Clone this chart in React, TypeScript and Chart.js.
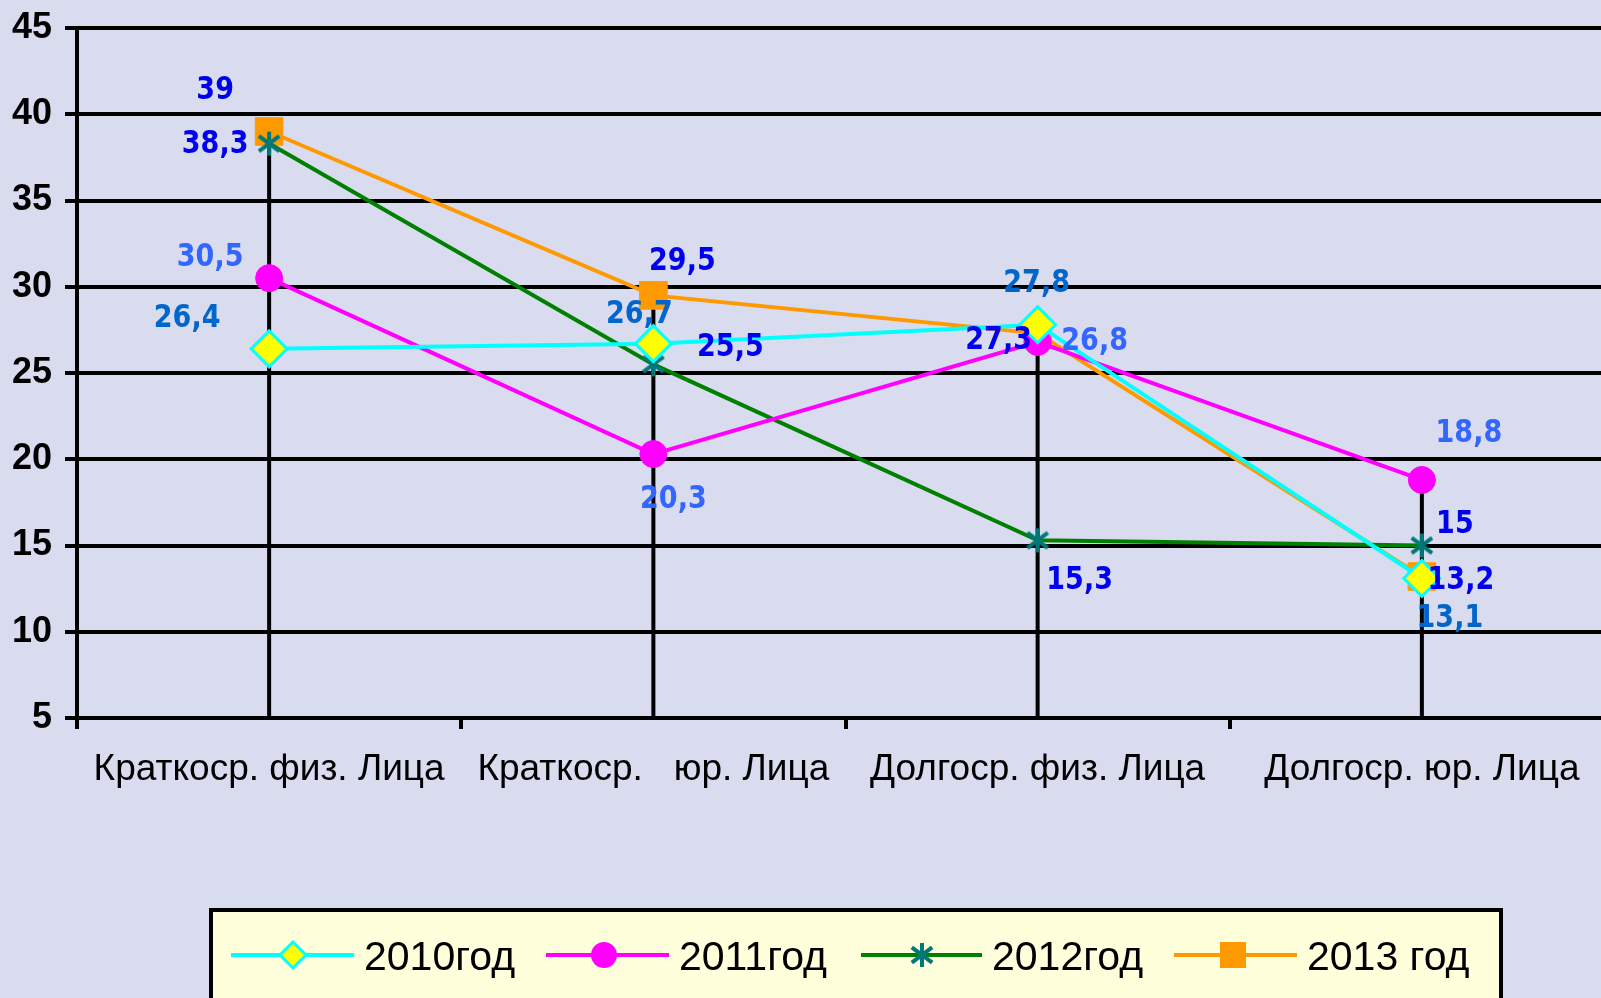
import React, { useEffect, useRef } from "react";
import { Chart, registerables } from "chart.js";
Chart.register(...registerables);

const categories = ["Краткоср. физ. Лица", "Краткоср.   юр. Лица", "Долгоср. физ. Лица", "Долгоср. юр. Лица"];
const seriesNames = ["2010год", "2011год", "2012год", "2013 год"];
const values2010 = [26.4, 26.7, 27.8, 13.1];
const values2011 = [30.5, 20.3, 26.8, 18.8];
const values2012 = [38.3, 25.5, 15.3, 15];
const values2013 = [39, 29.5, 27.3, 13.2];
const yMin = 5;
const yMax = 45;
const yStep = 5;

// label placement (style): offsets in px from each point
const labelOffsets = [
  [[-82, -31], [-14, -30], [-1, -42], [28, 40]],
  [[-59, -21], [20, 45], [57, -1], [47, -47]],
  [[-54, 0], [77, -17], [42, 40], [33, -22]],
  [[-54, -42], [29, -34], [-39, 7], [39, 3]],
];
const labelColors = ["#0066CC", "#3366FF", "#0000F0", "#0000F0"];

const FONT = "'Liberation Sans', Arial, sans-serif";
const LABEL_FONT = "'DejaVu Sans', Verdana, sans-serif";
const BG = "#D9DBEF";
const LW = 4;

function makeStar(size: number, color: string) {
  const c = document.createElement("canvas");
  c.width = size;
  c.height = size;
  const ctx = c.getContext("2d")!;
  ctx.strokeStyle = color;
  ctx.lineWidth = 4;
  const m = size / 2;
  const r = size / 2 - 2;
  ctx.beginPath();
  ctx.moveTo(m, m - r);
  ctx.lineTo(m, m + r);
  const d = r * 0.85;
  ctx.moveTo(m - d, m - d * 0.75);
  ctx.lineTo(m + d, m + d * 0.75);
  ctx.moveTo(m + d, m - d * 0.75);
  ctx.lineTo(m - d, m + d * 0.75);
  ctx.stroke();
  return c;
}

export default function App() {
  const ref = useRef<HTMLCanvasElement | null>(null);
  useEffect(() => {
    const canvas = ref.current!;
    const star = makeStar(28, "#007878");
    const allSeries = [values2010, values2011, values2012, values2013];

    const dropLines = {
      id: "dropLines",
      beforeDatasetsDraw(chart: any) {
        const ctx = chart.ctx;
        const xs = chart.scales.x;
        const ys = chart.scales.y;
        ctx.save();
        ctx.strokeStyle = "#000";
        ctx.lineWidth = LW;
        categories.forEach((_, i) => {
          const mx = Math.max(...allSeries.map((s) => s[i]));
          const x = xs.getPixelForValue(i);
          ctx.beginPath();
          ctx.moveTo(x, ys.getPixelForValue(yMin));
          ctx.lineTo(x, ys.getPixelForValue(mx));
          ctx.stroke();
        });
        ctx.restore();
      },
    };

    const dataLabels = {
      id: "dataLabels",
      afterDatasetsDraw(chart: any) {
        const ctx = chart.ctx;
        chart.data.datasets.forEach((ds: any, di: number) => {
          const meta = chart.getDatasetMeta(di);
          meta.data.forEach((pt: any, i: number) => {
            const [dx, dy] = labelOffsets[di][i];
            ctx.save();
            ctx.translate(pt.x + dx, pt.y + dy + 1);
            ctx.scale(1, 1.15);
            ctx.font = `bold 27px ${LABEL_FONT}`;
            ctx.textAlign = "center";
            ctx.textBaseline = "middle";
            ctx.fillStyle = labelColors[di];
            ctx.fillText(String(ds.data[i]).replace(".", ","), 0, 0);
            ctx.restore();
          });
        });
      },
    };

    const legendBox = {
      id: "legendBox",
      afterDraw(chart: any) {
        const ctx = chart.ctx;
        ctx.save();
        ctx.fillStyle = "#FFFFDC";
        ctx.fillRect(211, 910, 1290, 100);
        ctx.strokeStyle = "#000";
        ctx.lineWidth = LW;
        ctx.strokeRect(211, 910, 1290, 100);
        const cy = 955;
        const items = [
          { x0: 231, x1: 354, mx: 293, tx: 364 },
          { x0: 546, x1: 669, mx: 604, tx: 679 },
          { x0: 861, x1: 982, mx: 922, tx: 992 },
          { x0: 1174, x1: 1297, mx: 1233, tx: 1307 },
        ];
        const ds = chart.data.datasets;
        items.forEach((it, i) => {
          ctx.strokeStyle = ds[i].borderColor;
          ctx.lineWidth = LW;
          ctx.beginPath();
          ctx.moveTo(it.x0, cy);
          ctx.lineTo(it.x1, cy);
          ctx.stroke();
          if (i === 0) {
            ctx.fillStyle = "#FFFF00";
            ctx.strokeStyle = "#00FFFF";
            ctx.lineWidth = 3;
            ctx.beginPath();
            ctx.moveTo(it.mx, cy - 13);
            ctx.lineTo(it.mx + 13, cy);
            ctx.lineTo(it.mx, cy + 13);
            ctx.lineTo(it.mx - 13, cy);
            ctx.closePath();
            ctx.fill();
            ctx.stroke();
          } else if (i === 1) {
            ctx.fillStyle = "#FF00FF";
            ctx.beginPath();
            ctx.arc(it.mx, cy, 13, 0, Math.PI * 2);
            ctx.fill();
          } else if (i === 2) {
            ctx.drawImage(star, it.mx - 14, cy - 14, 28, 28);
          } else {
            ctx.fillStyle = "#FF9900";
            ctx.fillRect(it.mx - 13, cy - 13, 26, 26);
          }
          ctx.fillStyle = "#000";
          ctx.font = `41px ${FONT}`;
          ctx.textAlign = "left";
          ctx.textBaseline = "alphabetic";
          ctx.fillText(seriesNames[i], it.tx, 970);
        });
        ctx.restore();
      },
    };

    const chart = new Chart(canvas, {
      type: "line",
      data: {
        labels: categories,
        datasets: [
          {
            label: seriesNames[0],
            data: values2010,
            borderColor: "#00FFFF",
            backgroundColor: "#FFFF00",
            pointBackgroundColor: "#FFFF00",
            pointBorderColor: "#00FFFF",
            pointBorderWidth: 3,
            pointStyle: "rectRot",
            pointRadius: 18,
            borderWidth: LW,
          },
          {
            label: seriesNames[1],
            data: values2011,
            borderColor: "#FF00FF",
            backgroundColor: "#FF00FF",
            pointBackgroundColor: "#FF00FF",
            pointBorderColor: "#FF00FF",
            pointBorderWidth: 1,
            pointStyle: "circle",
            pointRadius: 13.5,
            borderWidth: LW,
          },
          {
            label: seriesNames[2],
            data: values2012,
            borderColor: "#008000",
            backgroundColor: "#008000",
            pointStyle: star as any,
            pointRadius: 14,
            borderWidth: LW,
          },
          {
            label: seriesNames[3],
            data: values2013,
            borderColor: "#FF9900",
            backgroundColor: "#FF9900",
            pointBackgroundColor: "#FF9900",
            pointBorderColor: "#FF9900",
            pointBorderWidth: 1,
            pointStyle: "rect",
            pointRadius: 19.5,
            borderWidth: LW,
          },
        ],
      },
      options: {
        responsive: true,
        maintainAspectRatio: false,
        animation: false,
        devicePixelRatio: 1,
        layout: { padding: { top: 28, right: 6, left: 0, bottom: 0 } },
        plugins: { legend: { display: false }, tooltip: { enabled: false } },
        scales: {
          x: {
            type: "category",
            offset: true,
            afterFit: (axis: any) => {
              axis.height = 280;
              axis.paddingLeft = 0;
              axis.paddingRight = 0;
            },
            grid: {
              display: true,
              drawOnChartArea: false,
              drawTicks: true,
              tickLength: 11,
              color: "#000",
              lineWidth: LW,
              offset: true,
            },
            border: { display: true, color: "#000", width: LW },
            ticks: {
              color: "#000",
              font: { family: FONT, size: 37 },
              padding: 19,
              maxRotation: 0,
              autoSkip: false,
            },
          },
          y: {
            min: yMin,
            max: yMax,
            afterFit: (axis: any) => {
              axis.width = 77;
              axis.paddingTop = 0;
              axis.paddingBottom = 0;
            },
            grid: {
              color: "#000",
              lineWidth: LW,
              tickLength: 12,
            },
            border: { display: true, color: "#000", width: LW },
            ticks: {
              stepSize: yStep,
              color: "#000",
              font: { family: FONT, size: 36, weight: "bold" },
              padding: 13,
            },
          },
        },
      },
      plugins: [dropLines, dataLabels, legendBox],
    } as any);
    return () => chart.destroy();
  }, []);

  return (
    <div
      style={{
        position: "fixed",
        left: 0,
        top: 0,
        width: 1601,
        height: 998,
        overflow: "hidden",
        background: BG,
      }}
    >
      <div style={{ position: "relative", width: 1635, height: 998 }}>
        <canvas ref={ref} />
      </div>
    </div>
  );
}
